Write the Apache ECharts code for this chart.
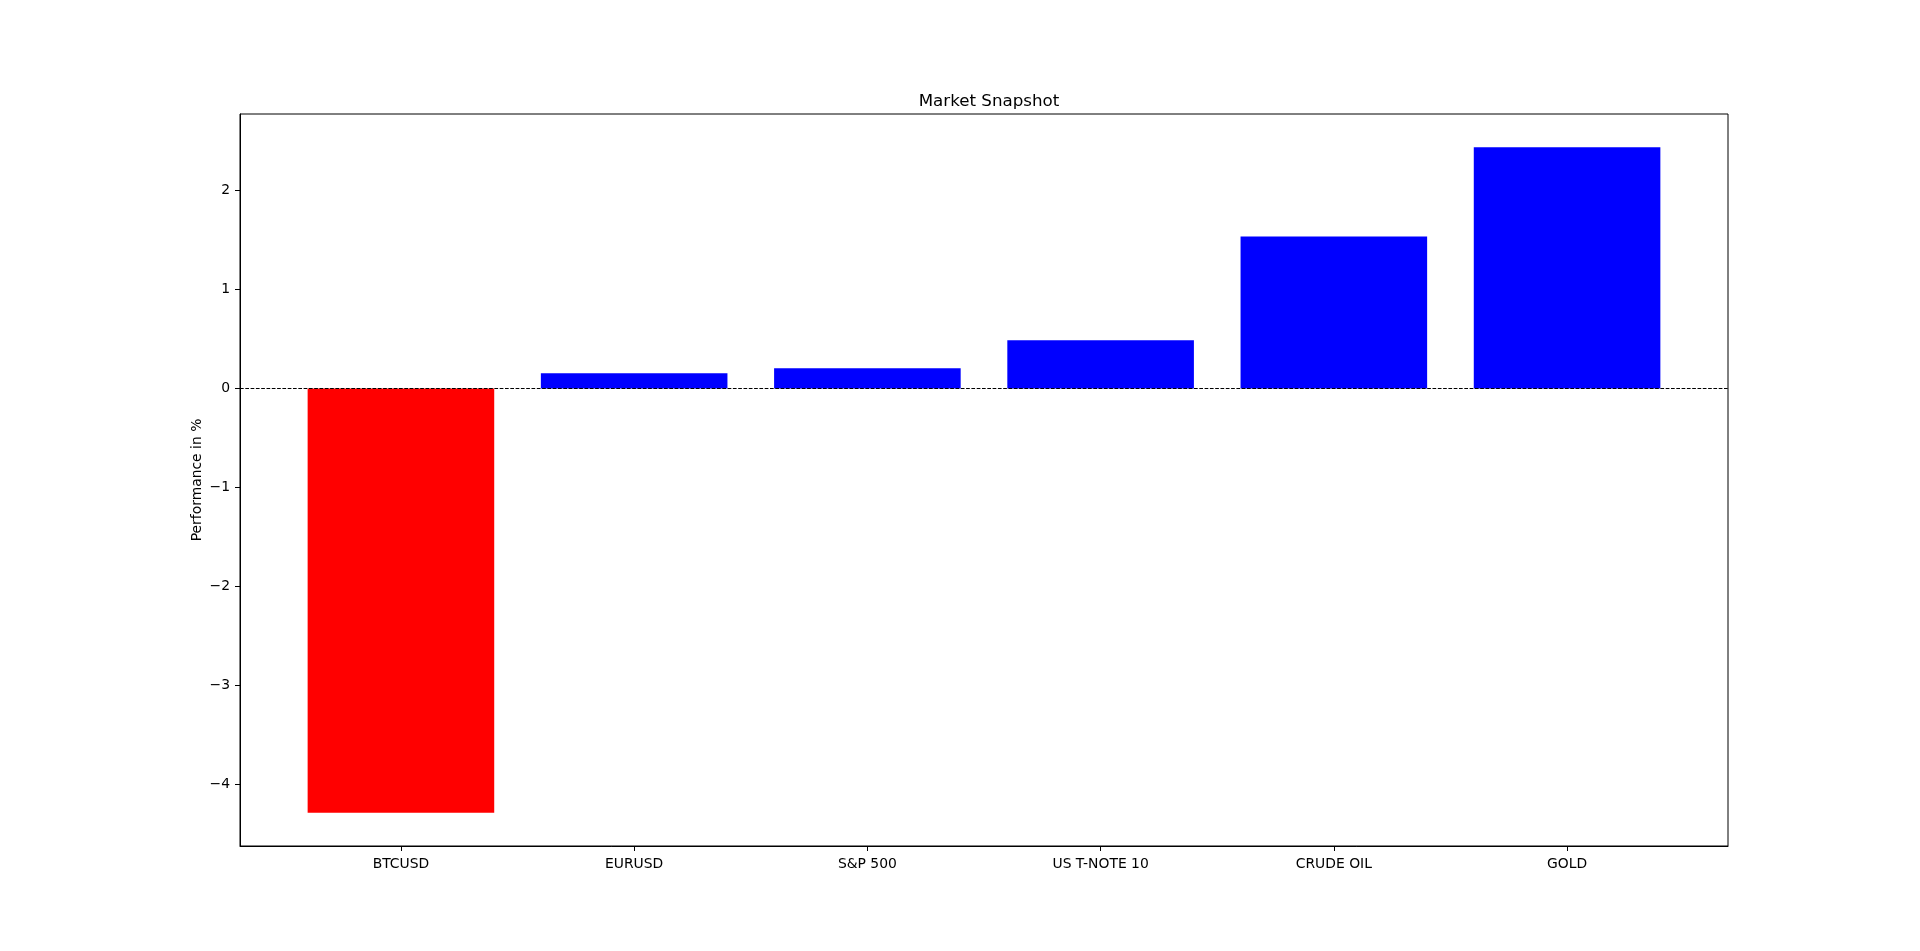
<!DOCTYPE html>
<html>
<head>
<meta charset="utf-8">
<script src="https://cdn.jsdelivr.net/npm/echarts@6/dist/echarts.min.js"></script>
<style>html,body{margin:0;padding:0;background:#fff}#c{width:1920px;height:951px}</style>
</head>
<body>
<div id="c"></div>
<script>
const categories = ['BTCUSD', 'EURUSD', 'S&P 500', 'US T-NOTE 10', 'CRUDE OIL', 'GOLD'];
const values = [-4.287, 0.155, 0.205, 0.488, 1.538, 2.439];
const yTicks = [-4, -3, -2, -1, 0, 1, 2];
const xRange = [-0.69, 5.69];
const yRange = [-4.623, 2.775];

const chart = echarts.init(document.getElementById('c'), null, {renderer: 'canvas'});
const font = 'DejaVu Sans';
const positions = categories.map((_, i) => i);

chart.setOption({
  animation: false,
  backgroundColor: '#fff',
  title: {
    text: 'Market Snapshot',
    left: 984, top: 88, textAlign: 'center',
    textStyle: {fontFamily: font, fontSize: 16.7, fontWeight: 'normal', color: '#000'}
  },
  grid: {
    left: 240, right: 192, top: 114, bottom: 105,
    show: true, borderColor: '#000', borderWidth: 1, backgroundColor: 'transparent'
  },
  xAxis: {
    type: 'value', min: xRange[0], max: xRange[1],
    splitLine: {show: false},
    axisLine: {show: true, onZero: false, lineStyle: {color: '#000', width: 1}},
    axisTick: {show: true, customValues: positions, length: 5, lineStyle: {color: '#000'}},
    axisLabel: {
      customValues: positions, margin: 11,
      formatter: v => categories[Math.round(v)] || '',
      fontFamily: font, fontSize: 13.9, color: '#000'
    }
  },
  yAxis: {
    type: 'value', min: yRange[0], max: yRange[1],
    name: 'Performance in %', nameLocation: 'middle', nameGap: 36,
    nameMoveOverlap: false,
    nameTextStyle: {fontFamily: font, fontSize: 13.9, color: '#000'},
    splitLine: {show: false},
    axisLine: {show: true, onZero: false, lineStyle: {color: '#000', width: 1}},
    axisTick: {show: true, customValues: yTicks, length: 5, lineStyle: {color: '#000'}},
    axisLabel: {
      customValues: yTicks, margin: 10,
      formatter: v => (v < 0 ? '\u2212' + Math.abs(v) : String(v)),
      fontFamily: font, fontSize: 13.9, color: '#000'
    }
  },
  series: [{
    type: 'bar',
    barWidth: '80%',
    data: values.map((v, i) => ({value: [i, v], itemStyle: {color: v < 0 ? '#ff0000' : '#0000ff'}})),
    markLine: {
      silent: true, symbol: ['none', 'none'],
      label: {show: false},
      lineStyle: {color: '#000', width: 1, type: [3.7, 1.6]},
      data: [{yAxis: 0}]
    }
  }]
});
</script>
</body>
</html>
